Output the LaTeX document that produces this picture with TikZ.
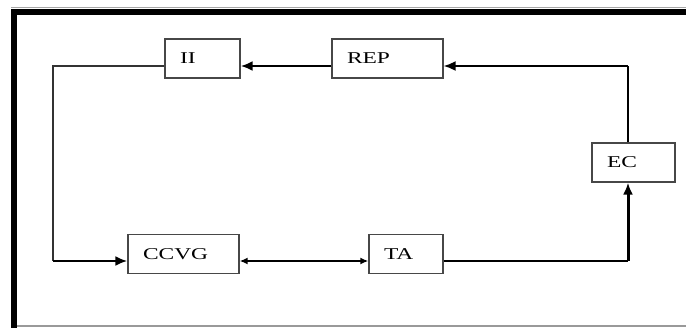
\documentclass[tikz,border=0pt]{standalone}
\usepackage{fontspec}
\setmainfont{Liberation Serif}
\usetikzlibrary{arrows.meta}
% horizontally widened label text
\newcommand{\widelabel}[1]{\scalebox{1.42}[1]{#1}}
\tikzset{
  blk/.style={draw=black!72, line width=1.3pt, minimum height=39pt,
    inner ysep=0pt, inner xsep=15pt, align=left,
    font=\fontsize{16.5}{18}\selectfont},
  thinlink/.style={draw=black!80, line width=1.3pt},
  boldlink/.style={draw=black, line width=2.2pt},
  bighead/.style={-{Latex[length=12pt,width=10pt]}},
}
\begin{document}
\begin{tikzpicture}[x=1pt,y=-1pt]
  \useasboundingbox (0,0) rectangle (686,327);
  % outer frame
  \draw[black!35, line width=1pt] (11,7.5) -- (686,7.5);
  \draw[black!40, line width=1.3pt] (17,326) -- (686,326);
  \draw[black, line width=6pt, line join=miter] (14,330) -- (14,12) -- (690,12);

  % blocks
  \node[blk, text width=45pt] (II)   at (202.5,58.5) {\widelabel{II}};
  \node[blk, text width=81pt] (REP)  at (387.5,58.5) {\widelabel{REP}};
  \node[blk, text width=81pt] (CCVG) at (183.5,254)  {\widelabel{CCVG}};
  \node[blk, text width=44pt] (TA)   at (406,254)    {\widelabel{TA}};
  \node[blk, text width=53pt] (EC)   at (633.5,162.5){\widelabel{EC}};

  % corner points of the loop
  \coordinate (nw) at (53,66);
  \coordinate (sw) at (53,261);
  \coordinate (ne) at (628,66);
  \coordinate (se) at (628,261);

  % connectors
  \draw[thinlink] (II.west |- nw) -- (nw) -- (sw);
  \draw[boldlink, line width=2.6pt, bighead] (sw) -- (CCVG.west |- sw);
  \draw[boldlink, bighead] (REP.west |- nw) -- (II.east |- nw);
  \draw[thinlink, draw=black] (EC.north -| ne) -- (ne);
  \draw[boldlink, line width=1.8pt, bighead] (ne) -- (REP.east |- ne);
  \draw[boldlink, {Latex[length=8pt,width=7pt]}-{Latex[length=8pt,width=7pt]}]
    (CCVG.east |- sw) -- (TA.west |- sw);
  \draw[thinlink, draw=black] (TA.east |- se) -- (se);
  \draw[boldlink, line width=3pt, bighead] (se) -- (EC.south -| se);
\end{tikzpicture}
\end{document}
